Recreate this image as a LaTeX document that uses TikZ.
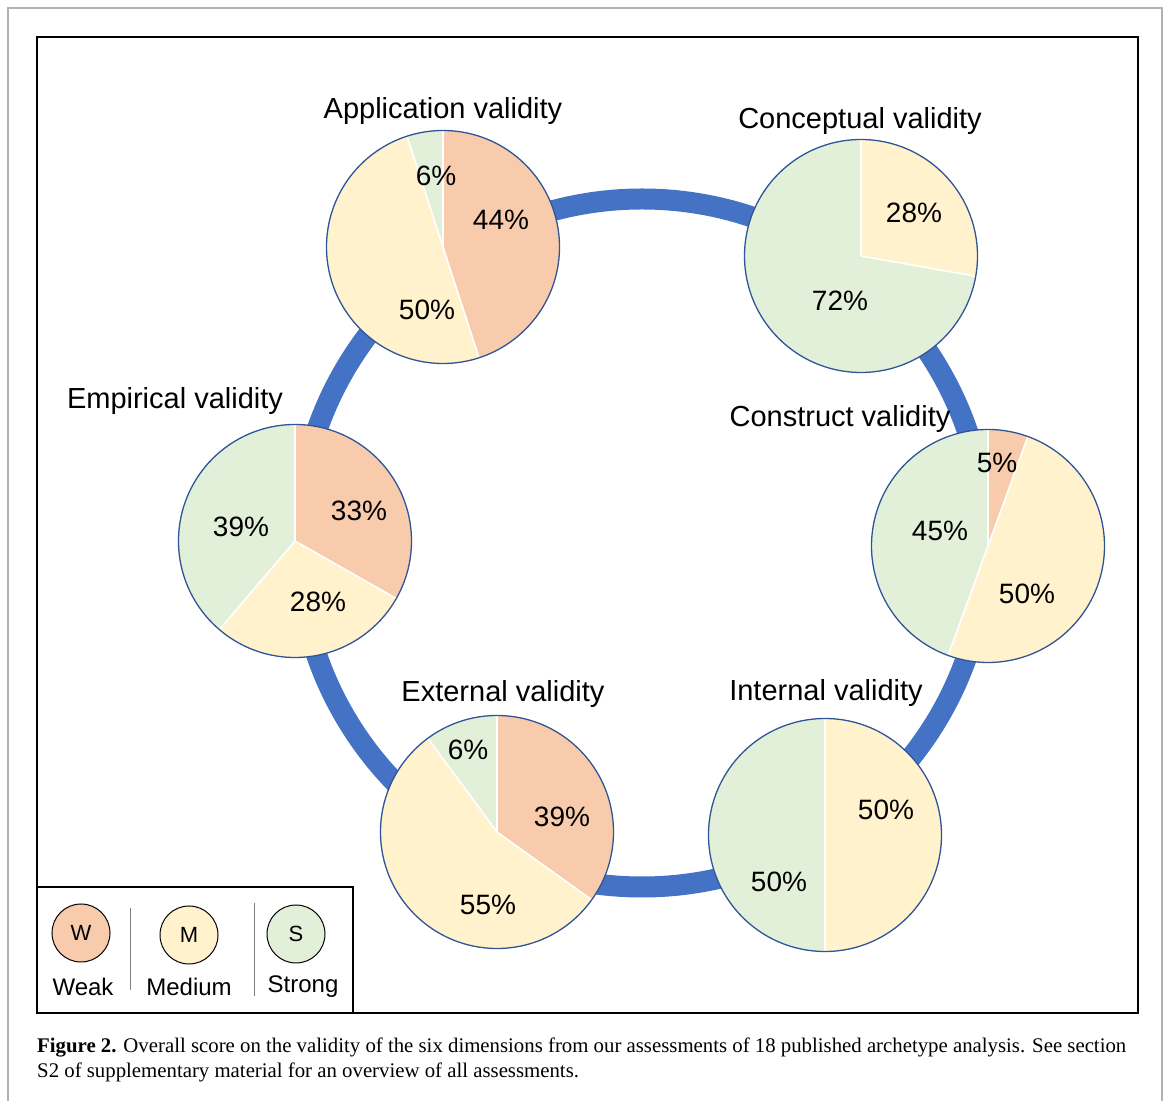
\documentclass[tikz,border=0pt]{standalone}
\usepackage{fontspec}
\setmainfont{Liberation Sans}
\newfontfamily\capfont{Liberation Serif}
\usetikzlibrary{calc}
\definecolor{weakc}{HTML}{F8CBAD}
\definecolor{medc}{HTML}{FFF2CC}
\definecolor{strongc}{HTML}{E2F0D9}
\definecolor{ringc}{HTML}{4472C4}
\definecolor{rimc}{HTML}{2F5597}
\tikzset{
  pie/.style={circle, minimum size=233pt, inner sep=0pt},
  rim/.style={draw=rimc, line width=1.3pt},
  cut/.style={white, line width=1.6pt},
  pct/.style={font=\fontsize{28}{32}\selectfont},
  dimtitle/.style={font=\fontsize{29}{34}\selectfont},
  key/.style={circle, draw=black, line width=1pt, minimum size=58pt, inner sep=0pt,
    font=\fontsize{22}{26}\selectfont},
  keylab/.style={font=\fontsize{24}{28}\selectfont},
  sep/.style={gray, line width=0.8pt},
  captext/.style={anchor=base west, inner sep=0pt, font=\capfont\fontsize{20.8}{25}\selectfont}
}
% #1 pie, #2 start angle, #3 end angle, #4 colour
\newcommand{\slice}[4]{\fill[#4] (#1.center) -- +(#2:116.5) arc[start angle=#2, end angle=#3, radius=116.5] -- cycle;}
\newcommand{\cuts}[2]{\foreach \a in {#2} \draw[cut] (#1.center) -- +(\a:116.5);}

\begin{document}
\begin{tikzpicture}[x=1pt,y=1pt]
    \useasboundingbox (0,0) rectangle (1171,1101);
    \draw[gray!60, line width=1.5pt] (8,0) -- (8,1093) -- (1162,1093) -- (1162,0);
    \draw[line width=1.8pt] (37,88) rectangle (1138,1064);

    % ring
    \coordinate (hub) at (642,558);
    \draw[ringc, line width=21pt] (hub) circle (344);

    \begin{scope}[shift={(443,854)}]
      \node[pie] (app) at (0,0) {};
      \slice{app}{90}{-72}{weakc}
      \slice{app}{-72}{-252}{medc}
      \slice{app}{108}{90}{strongc}
      \cuts{app}{90,-72,108}
      \draw[rim] (app.center) circle (116.5);
      \node[dimtitle] at (0,136) {Application validity};
      \node[pct] at (-7,71) {6\%};
      \node[pct] at (58,27) {44\%};
      \node[pct] at (-16,-63) {50\%};
    \end{scope}

    \begin{scope}[shift={(861,845)}]
      \node[pie] (conc) at (0,0) {};
      \slice{conc}{90}{-10}{medc}
      \slice{conc}{-10}{-270}{strongc}
      \cuts{conc}{90,-10}
      \draw[rim] (conc.center) circle (116.5);
      \node[dimtitle] at (-1,135) {Conceptual validity};
      \node[pct] at (53,43) {28\%};
      \node[pct] at (-21,-45) {72\%};
    \end{scope}

    \begin{scope}[shift={(988,555)}]
      \node[pie] (cons) at (0,0) {};
      \slice{cons}{90}{70}{weakc}
      \slice{cons}{70}{-110}{medc}
      \slice{cons}{-110}{-270}{strongc}
      \cuts{cons}{90,70,-110}
      \draw[rim] (cons.center) circle (116.5);
      \node[dimtitle] at (-148,127) {Construct validity};
      \node[pct] at (9,83) {5\%};
      \node[pct] at (-48,15) {45\%};
      \node[pct] at (39,-48) {50\%};
    \end{scope}

    \begin{scope}[shift={(825,266)}]
      \node[pie] (int) at (0,0) {};
      \slice{int}{90}{-90}{medc}
      \slice{int}{-90}{-270}{strongc}
      \cuts{int}{90,-90}
      \draw[rim] (int.center) circle (116.5);
      \node[dimtitle] at (1,142) {Internal validity};
      \node[pct] at (61,25) {50\%};
      \node[pct] at (-46,-47) {50\%};
    \end{scope}

    \begin{scope}[shift={(497,269)}]
      \node[pie] (ext) at (0,0) {};
      \slice{ext}{90}{-35.6}{weakc}
      \slice{ext}{-35.6}{-233.6}{medc}
      \slice{ext}{126.4}{90}{strongc}
      \cuts{ext}{90,-35.6,126.4}
      \draw[rim] (ext.center) circle (116.5);
      \node[dimtitle] at (6,138) {External validity};
      \node[pct] at (-29,82) {6\%};
      \node[pct] at (65,15) {39\%};
      \node[pct] at (-9,-73) {55\%};
    \end{scope}

    \begin{scope}[shift={(295,560)}]
      \node[pie] (emp) at (0,0) {};
      \slice{emp}{90}{-29.6}{weakc}
      \slice{emp}{-29.6}{-130.5}{medc}
      \slice{emp}{-130.5}{-270}{strongc}
      \cuts{emp}{90,-29.6,-130.5}
      \draw[rim] (emp.center) circle (116.5);
      \node[dimtitle] at (-120,140) {Empirical validity};
      \node[pct] at (64,30) {33\%};
      \node[pct] at (23,-61) {28\%};
      \node[pct] at (-54,14) {39\%};
    \end{scope}

    % legend
    \draw[line width=1.2pt] (37,88) rectangle (353,214);
    \node[key, fill=weakc] (w) at (81,168) {W};
    \node[key, fill=medc] (m) at (189,166) {M};
    \node[key, fill=strongc] (s) at (296,167) {S};
    \node[keylab] at (83,114) {Weak};
    \node[keylab] at (189,114) {Medium};
    \node[keylab] at (303,114) {Strong};
    \draw[sep] (130,111) -- (130,193);
    \draw[sep] (254,105) -- (254,198);

    % caption
    \node[captext] (capA) at (37,48) {\textbf{Figure 2.} Overall score on the validity of the six dimensions from our assessments of 18 published archetype analysis. See section};
    \node[captext] (capB) at (37,23) {S2 of supplementary material for an overview of all assessments.};
\end{tikzpicture}
\end{document}
